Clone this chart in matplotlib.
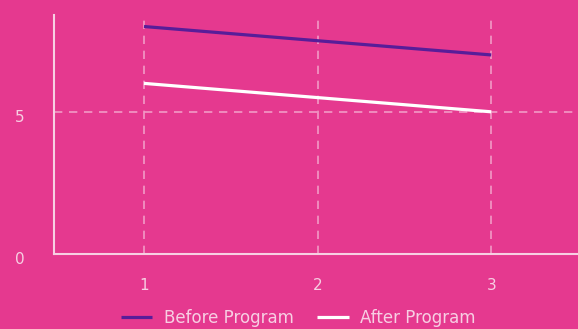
import numpy as np
import matplotlib.pyplot as plt
import matplotlib.transforms as mtransforms

# Scores before and after the program at each checkpoint
checkpoints = [1, 2, 3]
before_program = [8, 7.5, 7]
after_program = [6, 5.5, 5]

bg = "#E5398F"
text_col = "#F7CFE3"
grid_col = "#F29AC6"

plt.rcParams['font.family'] = ['DejaVu Sans']

fig = plt.figure(figsize=(5.78, 3.29), dpi=100, facecolor=bg)
ax = fig.add_axes([0.093, 0.228, 0.907, 0.726], facecolor=bg)

ax.plot(checkpoints, before_program, color="#581D99", lw=2.3, label="Before Program", solid_capstyle="butt")
ax.plot(checkpoints, after_program, color="white", lw=2.3, label="After Program", solid_capstyle="butt")

ax.set_xlim(0.48, 3.5)
ax.set_ylim(0, 8.4)
ax.set_xticks(checkpoints)
ax.set_yticks([0, 5])

for x in checkpoints:
    ax.axvline(x, color=grid_col, lw=1.2, ls=(0, (5, 4)), zorder=0)
ax.axhline(5, color=grid_col, lw=1.2, ls=(0, (5, 4)), zorder=0)

for side in ["top", "right"]:
    ax.spines[side].set_visible(False)
for side in ["left", "bottom"]:
    ax.spines[side].set_color(text_col)
    ax.spines[side].set_linewidth(1.5)

ax.tick_params(length=0, colors=text_col, labelsize=11)
ax.tick_params(axis="x", pad=17)
ax.tick_params(axis="y", pad=21)

# nudge the y labels slightly below their gridlines
shift = mtransforms.ScaledTranslation(0, -3 / 72, fig.dpi_scale_trans)
for lbl in ax.get_yticklabels():
    lbl.set_transform(lbl.get_transform() + shift)

leg = fig.legend(loc="center", bbox_to_anchor=(0.516, 0.033), ncol=2, frameon=False,
                 fontsize=12, handlelength=1.9, columnspacing=1.4, handletextpad=0.7)
for t in leg.get_texts():
    t.set_color(text_col)

fig.savefig("out.png", dpi=100, facecolor=bg)
